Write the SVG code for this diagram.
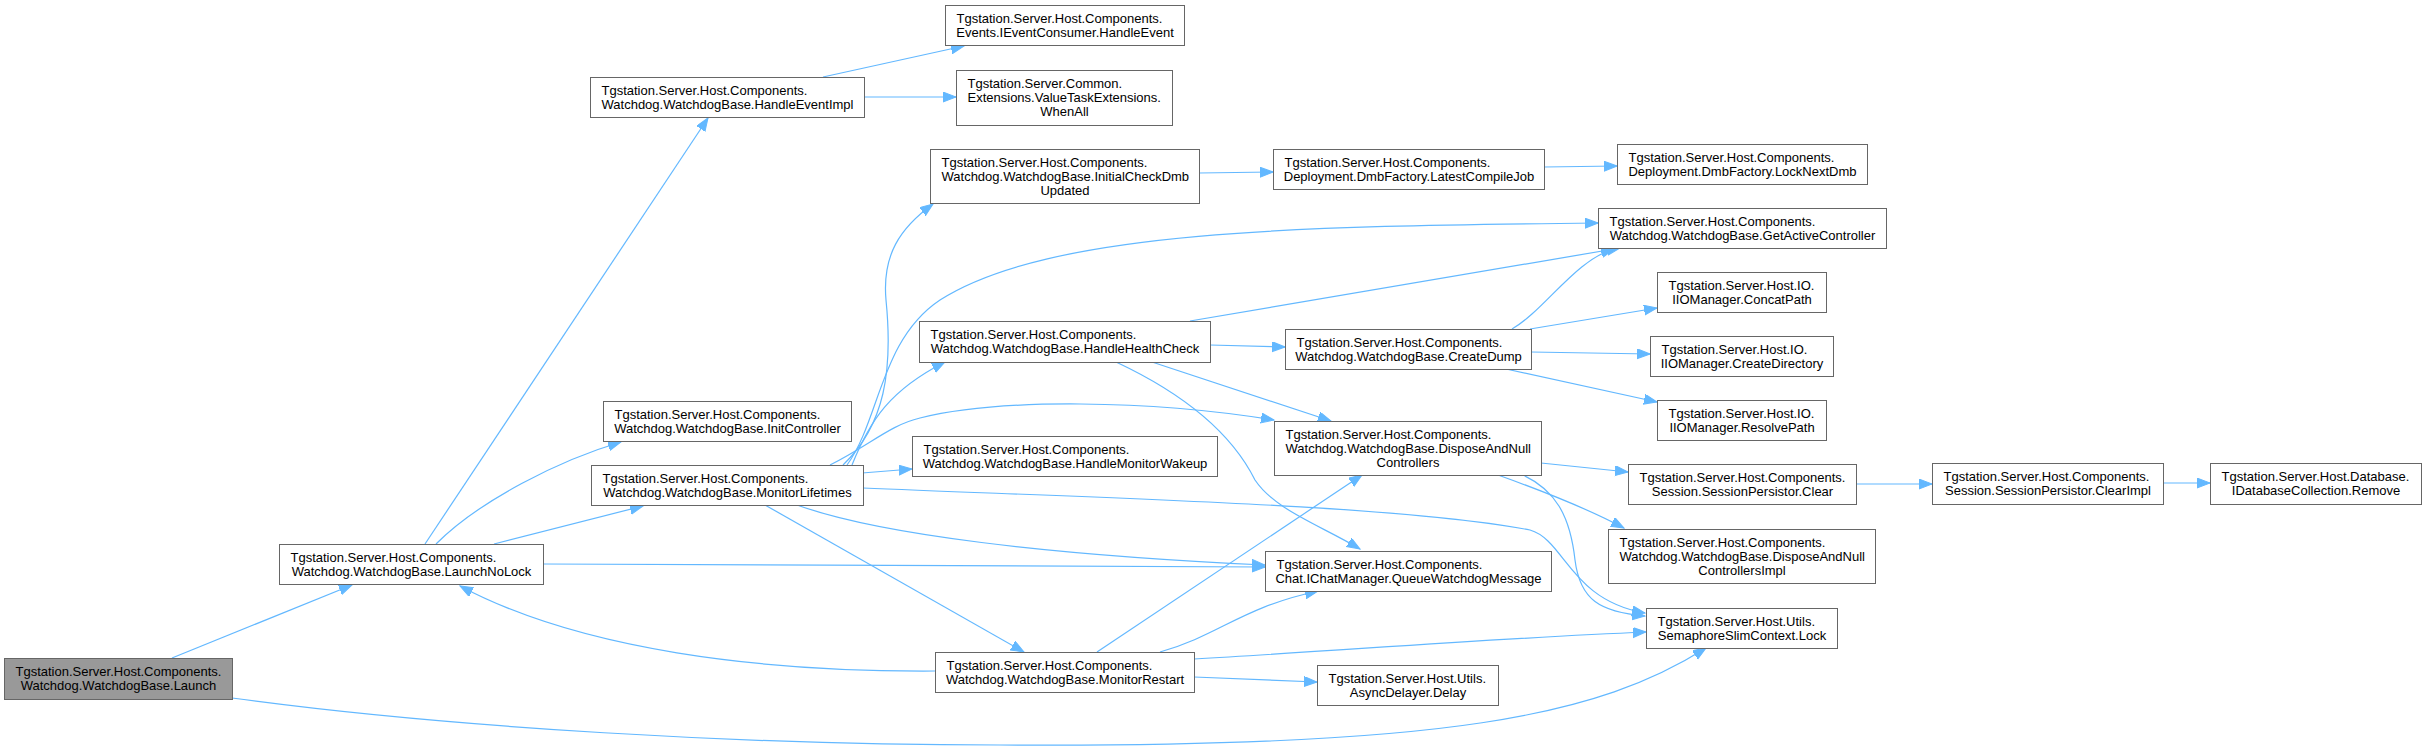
<svg xmlns="http://www.w3.org/2000/svg" width="2425" height="755" viewBox="0 0 2425 755">
<style>
.n rect{fill:#ffffff;stroke:#666666;stroke-width:1}
.hl rect{fill:#999999}
text{font-family:"Liberation Sans",Arial,Helvetica,sans-serif;font-size:13px;fill:#000000}
.m{text-anchor:middle}
.e path{fill:none;stroke:#63b8ff;stroke-width:1.2;marker-end:url(#ah)}
</style>
<defs>
<marker id="ah" markerUnits="userSpaceOnUse" markerWidth="14" markerHeight="11" refX="13" refY="5" orient="auto">
<path d="M0,0 L13,5 L0,10 z" fill="#63b8ff" stroke="#63b8ff" stroke-width="1"/>
</marker>
</defs>
<rect width="2425" height="755" fill="#ffffff"/>
<g id="edges" class="e">
<path d="M172,658 L352,585"/>
<path d="M232,698 C450,728 750,745 1000,745 C1450,748 1600,715 1706,648"/>
<path d="M425,544 L708,118"/>
<path d="M436,544 C480,500 560,460 621,442"/>
<path d="M494,544 L643,506"/>
<path d="M543,564 L1265,567"/>
<path d="M823,77 L964,46"/>
<path d="M864,97 L956,97"/>
<path d="M843,465 C885,425 893,370 886,300 C882,255 900,228 933,204"/>
<path d="M847,465 C880,420 880,340 940,300 C1050,230 1300,226 1598,223"/>
<path d="M852,465 C870,420 890,390 945,362"/>
<path d="M862,473 L912,469"/>
<path d="M830,465 C870,445 890,425 920,418 C1000,398 1150,400 1274,420"/>
<path d="M797,505 C880,535 1050,555 1265,565"/>
<path d="M765,505 L1024,652"/>
<path d="M863,488 C1100,498 1400,505 1530,530 C1565,540 1570,600 1645,613"/>
<path d="M935,671 C760,672 580,650 460,586"/>
<path d="M1097,652 L1362,475"/>
<path d="M1160,652 C1220,635 1240,608 1318,591"/>
<path d="M1194,659 C1350,650 1500,638 1646,632"/>
<path d="M1194,677 L1317,682"/>
<path d="M1190,321 L1620,248"/>
<path d="M1210,345 L1285,347"/>
<path d="M1152,362 L1331,421"/>
<path d="M1116,362 C1180,392 1230,430 1255,480 C1275,510 1320,525 1360,549"/>
<path d="M1512,329 C1545,310 1575,260 1614,249"/>
<path d="M1530,329 L1657,308"/>
<path d="M1531,352 L1650,354"/>
<path d="M1506,369 L1657,402"/>
<path d="M1541,463 L1628,472"/>
<path d="M1498,475 C1540,490 1590,510 1624,528"/>
<path d="M1523,475 C1555,490 1570,515 1575,560 C1580,600 1600,612 1645,616"/>
<path d="M1856,484 L1932,484"/>
<path d="M2163,483 L2210,483"/>
<path d="M1199,173 L1273,172"/>
<path d="M1544,167 L1617,166"/>
</g>
<g id="launch" class="n hl"><rect x="4.5" y="658.5" width="228" height="41"/><text x="15.5" y="675.5">Tgstation.Server.Host.Components.</text><text class="m" x="118.5" y="689.5">Watchdog.WatchdogBase.Launch</text></g>
<g id="launchnolock" class="n"><rect x="279.5" y="544.5" width="264" height="40"/><text x="290.5" y="561.5">Tgstation.Server.Host.Components.</text><text class="m" x="411.5" y="575.5">Watchdog.WatchdogBase.LaunchNoLock</text></g>
<g id="handleeventimpl" class="n"><rect x="590.5" y="77.5" width="274" height="40"/><text x="601.5" y="94.5">Tgstation.Server.Host.Components.</text><text class="m" x="727.5" y="108.5">Watchdog.WatchdogBase.HandleEventImpl</text></g>
<g id="handleevent" class="n"><rect x="945.5" y="5.5" width="239" height="40"/><text x="956.5" y="22.5">Tgstation.Server.Host.Components.</text><text class="m" x="1065" y="36.5">Events.IEventConsumer.HandleEvent</text></g>
<g id="whenall" class="n"><rect x="956.5" y="70.5" width="216" height="55"/><text x="967.5" y="87.5">Tgstation.Server.Common.</text><text x="967.5" y="101.5">Extensions.ValueTaskExtensions.</text><text class="m" x="1064.5" y="115.5">WhenAll</text></g>
<g id="initialcheckdmbupdated" class="n"><rect x="930.5" y="149.5" width="269" height="54"/><text x="941.5" y="166.5">Tgstation.Server.Host.Components.</text><text x="941.5" y="180.5">Watchdog.WatchdogBase.InitialCheckDmb</text><text class="m" x="1065" y="194.5">Updated</text></g>
<g id="handlehealthcheck" class="n"><rect x="919.5" y="321.5" width="291" height="41"/><text x="930.5" y="338.5">Tgstation.Server.Host.Components.</text><text class="m" x="1065" y="352.5">Watchdog.WatchdogBase.HandleHealthCheck</text></g>
<g id="initcontroller" class="n"><rect x="603.5" y="401.5" width="248" height="40"/><text x="614.5" y="418.5">Tgstation.Server.Host.Components.</text><text class="m" x="727.5" y="432.5">Watchdog.WatchdogBase.InitController</text></g>
<g id="handlemonitorwakeup" class="n"><rect x="912.5" y="436.5" width="305" height="40"/><text x="923.5" y="453.5">Tgstation.Server.Host.Components.</text><text class="m" x="1065" y="467.5">Watchdog.WatchdogBase.HandleMonitorWakeup</text></g>
<g id="monitorlifetimes" class="n"><rect x="591.5" y="465.5" width="272" height="40"/><text x="602.5" y="482.5">Tgstation.Server.Host.Components.</text><text class="m" x="727.5" y="496.5">Watchdog.WatchdogBase.MonitorLifetimes</text></g>
<g id="monitorrestart" class="n"><rect x="935.5" y="652.5" width="259" height="40"/><text x="946.5" y="669.5">Tgstation.Server.Host.Components.</text><text class="m" x="1065" y="683.5">Watchdog.WatchdogBase.MonitorRestart</text></g>
<g id="latestcompilejob" class="n"><rect x="1273.5" y="149.5" width="271" height="40"/><text x="1284.5" y="166.5">Tgstation.Server.Host.Components.</text><text class="m" x="1409" y="180.5">Deployment.DmbFactory.LatestCompileJob</text></g>
<g id="locknextdmb" class="n"><rect x="1617.5" y="144.5" width="250" height="40"/><text x="1628.5" y="161.5">Tgstation.Server.Host.Components.</text><text class="m" x="1742.5" y="175.5">Deployment.DmbFactory.LockNextDmb</text></g>
<g id="getactivecontroller" class="n"><rect x="1598.5" y="208.5" width="288" height="40"/><text x="1609.5" y="225.5">Tgstation.Server.Host.Components.</text><text class="m" x="1742.5" y="239.5">Watchdog.WatchdogBase.GetActiveController</text></g>
<g id="createdump" class="n"><rect x="1285.5" y="329.5" width="246" height="40"/><text x="1296.5" y="346.5">Tgstation.Server.Host.Components.</text><text class="m" x="1408.5" y="360.5">Watchdog.WatchdogBase.CreateDump</text></g>
<g id="concatpath" class="n"><rect x="1657.5" y="272.5" width="169" height="40"/><text x="1668.5" y="289.5">Tgstation.Server.Host.IO.</text><text class="m" x="1742" y="303.5">IIOManager.ConcatPath</text></g>
<g id="createdirectory" class="n"><rect x="1650.5" y="336.5" width="183" height="40"/><text x="1661.5" y="353.5">Tgstation.Server.Host.IO.</text><text class="m" x="1742" y="367.5">IIOManager.CreateDirectory</text></g>
<g id="resolvepath" class="n"><rect x="1657.5" y="400.5" width="169" height="40"/><text x="1668.5" y="417.5">Tgstation.Server.Host.IO.</text><text class="m" x="1742" y="431.5">IIOManager.ResolvePath</text></g>
<g id="disposeandnullcontrollers" class="n"><rect x="1274.5" y="421.5" width="267" height="54"/><text x="1285.5" y="438.5">Tgstation.Server.Host.Components.</text><text x="1285.5" y="452.5">Watchdog.WatchdogBase.DisposeAndNull</text><text class="m" x="1408" y="466.5">Controllers</text></g>
<g id="clear" class="n"><rect x="1628.5" y="464.5" width="228" height="40"/><text x="1639.5" y="481.5">Tgstation.Server.Host.Components.</text><text class="m" x="1742.5" y="495.5">Session.SessionPersistor.Clear</text></g>
<g id="clearimpl" class="n"><rect x="1932.5" y="463.5" width="231" height="41"/><text x="1943.5" y="480.5">Tgstation.Server.Host.Components.</text><text class="m" x="2048" y="494.5">Session.SessionPersistor.ClearImpl</text></g>
<g id="remove" class="n"><rect x="2210.5" y="463.5" width="211" height="41"/><text x="2221.5" y="480.5">Tgstation.Server.Host.Database.</text><text class="m" x="2316" y="494.5">IDatabaseCollection.Remove</text></g>
<g id="queuewatchdogmessage" class="n"><rect x="1265.5" y="551.5" width="286" height="40"/><text x="1276.5" y="568.5">Tgstation.Server.Host.Components.</text><text class="m" x="1408.5" y="582.5">Chat.IChatManager.QueueWatchdogMessage</text></g>
<g id="disposeandnullcontrollersimpl" class="n"><rect x="1608.5" y="529.5" width="267" height="54"/><text x="1619.5" y="546.5">Tgstation.Server.Host.Components.</text><text x="1619.5" y="560.5">Watchdog.WatchdogBase.DisposeAndNull</text><text class="m" x="1742" y="574.5">ControllersImpl</text></g>
<g id="lock" class="n"><rect x="1646.5" y="608.5" width="191" height="40"/><text x="1657.5" y="625.5">Tgstation.Server.Host.Utils.</text><text class="m" x="1742" y="639.5">SemaphoreSlimContext.Lock</text></g>
<g id="delay" class="n"><rect x="1317.5" y="665.5" width="181" height="40"/><text x="1328.5" y="682.5">Tgstation.Server.Host.Utils.</text><text class="m" x="1408" y="696.5">AsyncDelayer.Delay</text></g>
</svg>
